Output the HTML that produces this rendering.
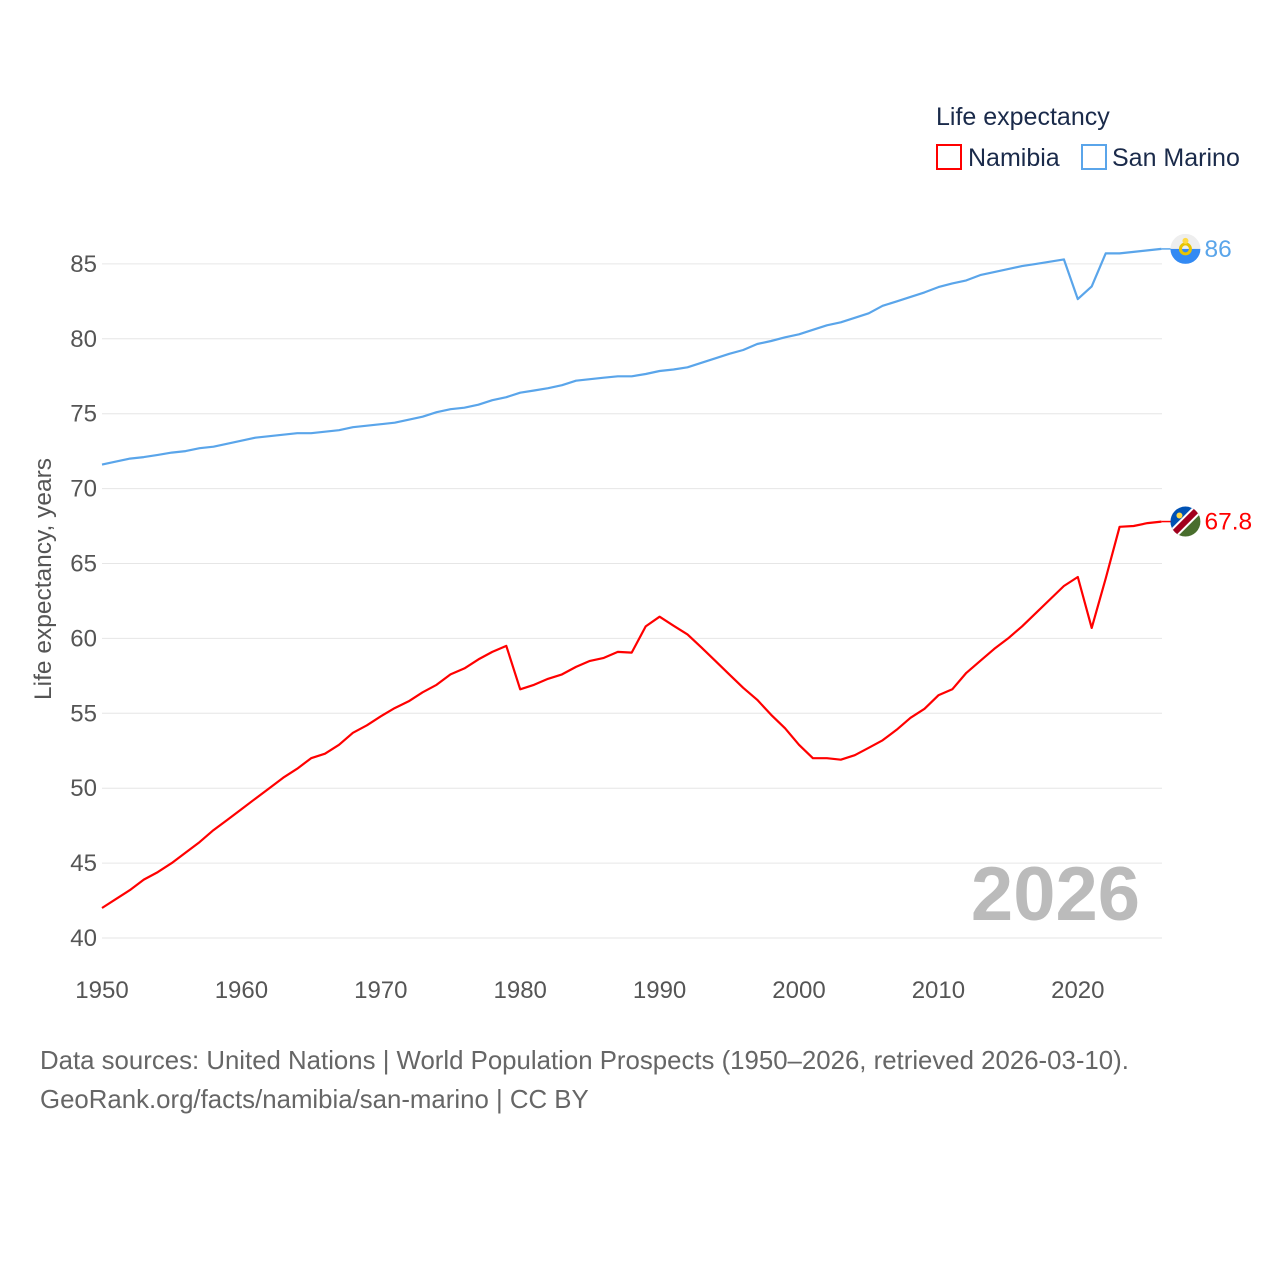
<!DOCTYPE html>
<html><head><meta charset="utf-8"><style>
body{margin:0;background:#fff;font-family:"Liberation Sans",sans-serif;}
svg text{font-family:"Liberation Sans",sans-serif;}
</style></head><body>
<svg width="1280" height="1280" viewBox="0 0 1280 1280">
<g>
<text x="936" y="125" font-size="25" fill="#1a2a4a">Life expectancy</text>
<g><rect x="937" y="145" width="24" height="24" fill="none" stroke="#f00" stroke-width="2"/><text x="968" y="166" font-size="25" fill="#1a2a4a">Namibia</text></g>
<g><rect x="1082" y="145" width="24" height="24" fill="none" stroke="#5aa5ea" stroke-width="2"/><text x="1112" y="166" font-size="25" fill="#1a2a4a">San Marino</text></g>
</g>
<g id="grid"></g>
<g id="yticks"></g>
<g id="xticks"></g>
<text transform="translate(51,579) rotate(-90)" text-anchor="middle" font-size="24.5" fill="#555">Life expectancy, years</text>
<text x="1140" y="920" text-anchor="end" font-size="76" font-weight="bold" fill="#bbb">2026</text>
<g id="series"></g>
<g>
<text x="40" y="1069" font-size="25.8" fill="#666">Data sources: United Nations | World Population Prospects (1950–2026, retrieved 2026-03-10).</text>
<text x="40" y="1108" font-size="25.8" fill="#666">GeoRank.org/facts/namibia/san-marino | CC BY</text>
</g>
</svg>
<script>
const years = [];
for (let y = 1950; y <= 2026; y++) years.push(y);
const namibia = [42.0,42.6,43.2,43.9,44.4,45.0,45.7,46.4,47.2,47.9,48.6,49.3,50.0,50.7,51.3,52.0,52.3,52.9,53.7,54.2,54.8,55.35,55.8,56.4,56.9,57.6,58.0,58.6,59.1,59.5,56.6,56.9,57.3,57.6,58.1,58.5,58.7,59.1,59.05,60.8,61.45,60.85,60.27,59.4,58.5,57.6,56.7,55.9,54.9,54.0,52.9,52.0,52.0,51.9,52.2,52.7,53.2,53.9,54.7,55.3,56.2,56.6,57.7,58.5,59.3,60.0,60.8,61.7,62.6,63.5,64.1,60.7,64.0,67.45,67.5,67.7,67.8];
const sanMarino = [71.6,71.8,72.0,72.1,72.25,72.4,72.5,72.7,72.8,73.0,73.2,73.4,73.5,73.6,73.7,73.7,73.8,73.9,74.1,74.2,74.3,74.4,74.6,74.8,75.1,75.3,75.4,75.6,75.9,76.1,76.4,76.55,76.7,76.9,77.2,77.3,77.4,77.5,77.5,77.65,77.85,77.95,78.1,78.4,78.7,79.0,79.25,79.65,79.85,80.1,80.3,80.6,80.9,81.1,81.4,81.7,82.2,82.5,82.8,83.1,83.45,83.7,83.9,84.25,84.45,84.65,84.85,85.0,85.15,85.3,82.65,83.5,85.7,85.7,85.8,85.9,86.0];
const yTickValues = [40,45,50,55,60,65,70,75,80,85];
const xTickValues = [1950,1960,1970,1980,1990,2000,2010,2020];
const xs = y => 102 + (y - 1950) * 13.94;
const ys = v => 938 - (v - 40) * 14.98;
const NS = "http://www.w3.org/2000/svg";
const mk = (tag, attrs, parent) => { const e = document.createElementNS(NS, tag); for (const k in attrs) e.setAttribute(k, attrs[k]); parent.appendChild(e); return e; };
const grid = document.getElementById('grid'), yt = document.getElementById('yticks'), xt = document.getElementById('xticks'), series = document.getElementById('series');
yTickValues.forEach(v => {
  const l = mk('line', {x1: 102, x2: 1162, y1: ys(v), y2: ys(v), stroke: '#e6e6e6', 'stroke-width': 1}, grid);
  
  
  const t = mk('text', {x: 97, y: ys(v) + 8, 'text-anchor': 'end', 'font-size': 24, fill: '#555'}, yt);
  t.textContent = v;
  
  
});
xTickValues.forEach(v => {
  const t = mk('text', {x: xs(v), y: 998, 'text-anchor': 'middle', 'font-size': 24, fill: '#555'}, xt);
  t.textContent = v;
  
  
});
function drawSeries(vals, color, name, label) {
  const d = vals.map((v, i) => (i ? 'L' : 'M') + xs(years[i]).toFixed(1) + ',' + ys(v).toFixed(1)).join('');
  const p = mk('path', {d: d, fill: 'none', stroke: color, 'stroke-width': 2.2, 'stroke-linejoin': 'round'}, series);
  
  
  const last = vals[vals.length - 1];
  const lx = xs(years[years.length - 1]), ly = ys(last);
  mk('line', {x1: lx, x2: lx + 10, y1: ly, y2: ly, stroke: color, 'stroke-width': 1.5}, series);
  return {x: lx + 24, y: ly, last: label};
}
const sm = drawSeries(sanMarino, '#5aa5ea', 'san-marino', '86');
const nm = drawSeries(namibia, '#f00', 'namibia', '67.8');
const f1 = mk('g', {}, series);


mk('clipPath', {id: 'c1'}, f1); mk('circle', {cx: sm.x, cy: sm.y, r: 15}, f1.lastChild);
mk('rect', {x: sm.x - 15, y: sm.y - 15, width: 30, height: 15, fill: '#eee', 'clip-path': 'url(#c1)'}, f1);
mk('rect', {x: sm.x - 15, y: sm.y, width: 30, height: 15, fill: '#338af3', 'clip-path': 'url(#c1)'}, f1);
mk('circle', {cx: sm.x, cy: sm.y, r: 5, fill: 'none', stroke: '#e8c400', 'stroke-width': 3}, f1);
mk('circle', {cx: sm.x, cy: sm.y - 8, r: 3, fill: '#ffda44'}, f1);
const f2 = mk('g', {}, series);


mk('clipPath', {id: 'c2'}, f2); mk('circle', {cx: nm.x, cy: nm.y, r: 15}, f2.lastChild);
mk('path', {d: `M${nm.x-15},${nm.y-15}h30L${nm.x-15},${nm.y+15}z`, fill: '#0052b4', 'clip-path': 'url(#c2)'}, f2);
mk('path', {d: `M${nm.x+15},${nm.y+15}h-30L${nm.x+15},${nm.y-15}z`, fill: '#496e2d', 'clip-path': 'url(#c2)'}, f2);
mk('line', {x1: nm.x - 15, y1: nm.y + 15, x2: nm.x + 15, y2: nm.y - 15, stroke: '#fff', 'stroke-width': 10, 'clip-path': 'url(#c2)'}, f2);
mk('line', {x1: nm.x - 15, y1: nm.y + 15, x2: nm.x + 15, y2: nm.y - 15, stroke: '#a2001d', 'stroke-width': 6, 'clip-path': 'url(#c2)'}, f2);
mk('circle', {cx: nm.x - 6, cy: nm.y - 6, r: 3, fill: '#ffda44'}, f2);
[[sm, '#5aa5ea', 'san-marino-end-label'], [nm, '#f00', 'namibia-end-label']].forEach(([s, c, n]) => {
  const t = mk('text', {x: s.x + 19, y: s.y + 8, 'font-size': 24.5, fill: c}, series);
  t.textContent = s.last;
  
  
});
</script>
</body></html>
